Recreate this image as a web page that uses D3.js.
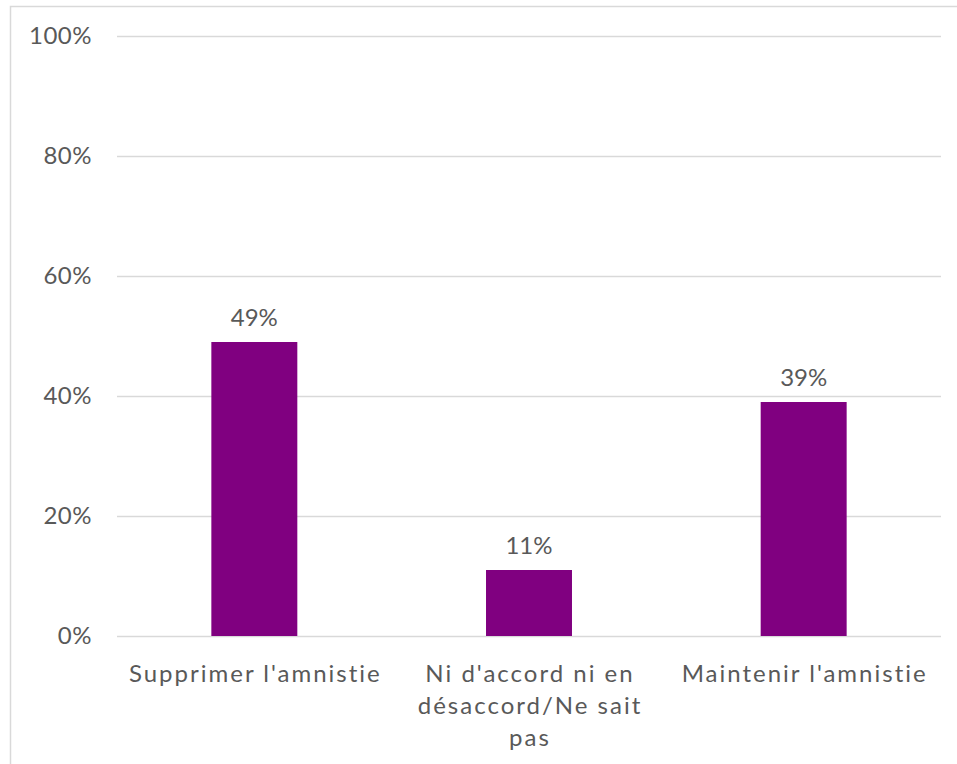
<!DOCTYPE html>
<html><head><meta charset="utf-8">
<script src="https://cdn.jsdelivr.net/npm/d3@7"></script>
<style>body{margin:0;background:#fff;} svg{display:block;} text{font-family:"Lato","Open Sans",sans-serif;fill:#595959;}</style>
</head><body>
<svg id="c" width="957" height="764"></svg>
<script>
const categories = ["Supprimer l'amnistie", "Ni d'accord ni en désaccord/Ne sait pas", "Maintenir l'amnistie"];
const values = [49, 11, 39];
const valueLabels = ["49%", "11%", "39%"];
const yTicks = [0, 20, 40, 60, 80, 100];

const svg = d3.select("#c");
const W = 957, H = 764;
const m = {left:117, right:16, top:36, bottom:128};
const x = d3.scaleBand().domain(categories).range([m.left, W - m.right]).paddingInner(0.687).paddingOuter(0.3435);
const y = d3.scaleLinear().domain([0,100]).range([H - m.bottom, m.top]);

// frame
svg.append("path").attr("d", `M10.5,${H} L10.5,6.5 L${W},6.5`).attr("fill","none").attr("stroke","#d9d9d9").attr("stroke-width",1.5);

// grid
const yAxis = d3.axisLeft(y).tickValues(yTicks).tickFormat(d => d + "%").tickSize(-(W - m.right - m.left)).tickPadding(25);
const g = svg.append("g").attr("transform", `translate(${m.left},0)`).call(yAxis);
g.select(".domain").remove();
g.selectAll(".tick line").attr("stroke","#d9d9d9").attr("stroke-width",1.5);
g.selectAll(".tick text").style("font-size","24px").style("letter-spacing","0.5px").attr("fill","#595959").attr("dy","0.32em");

// bars
svg.selectAll("rect.bar").data(values).join("rect").attr("class","bar")
  .attr("x", (d,i) => x(categories[i])).attr("width", x.bandwidth())
  .attr("y", d => y(d)).attr("height", d => y(0) - y(d)).attr("fill","#800080");

// value labels
svg.selectAll("text.val").data(values).join("text").attr("class","val")
  .attr("x", (d,i) => x(categories[i]) + x.bandwidth()/2).attr("y", d => y(d) - 16)
  .attr("text-anchor","middle").style("font-size","24px").text((d,i) => valueLabels[i]);

// category labels with wrapping
const step = x.step();
categories.forEach((c,i) => {
  const cx = x(c) + x.bandwidth()/2 + 1;
  const t = svg.append("text").attr("x", cx).attr("y", y(0) + 46).attr("text-anchor","middle")
    .style("font-size","24px").style("letter-spacing","2px");
  const words = c.split(" ");
  let line = [];
  let ts = t.append("tspan").attr("x", cx).attr("dy", 0);
  words.forEach(w => {
    line.push(w);
    ts.text(line.join(" "));
    if (ts.node().getComputedTextLength() > step - 8 && line.length > 1) {
      line.pop(); ts.text(line.join(" "));
      line = [w];
      ts = t.append("tspan").attr("x", cx).attr("dy", 32).text(w);
    }
  });
});
</script>
</body></html>
